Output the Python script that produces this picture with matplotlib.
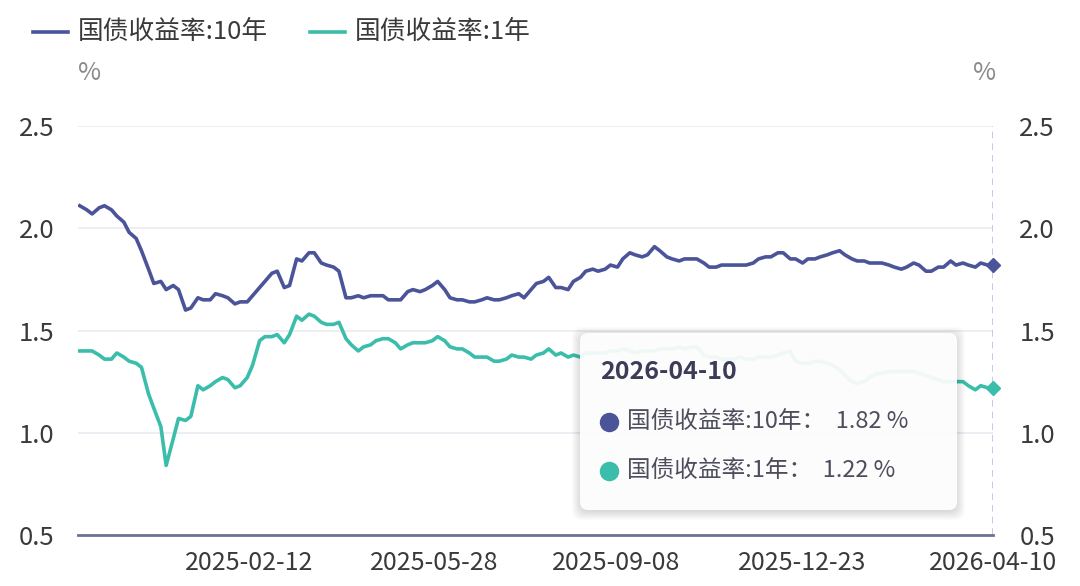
import pandas as pd
import matplotlib
import matplotlib.pyplot as plt
from matplotlib.lines import Line2D
from matplotlib.patches import FancyBboxPatch
from matplotlib.transforms import IdentityTransform

plt.rcParams['font.family'] = ['Noto Sans CJK SC', 'DejaVu Sans']

start_date = "2024-11-08"
end_date = "2026-04-10"

yield_10y = [
    2.11,
    2.09, 2.07, 2.10, 2.11, 2.09, 2.06, 2.03, 1.98, 1.95, 1.89,
    1.80, 1.73, 1.74, 1.70, 1.72, 1.70, 1.60, 1.61, 1.66, 1.65,
    1.65, 1.68, 1.67, 1.66, 1.63, 1.64, 1.64, 1.67, 1.71, 1.74,
    1.78, 1.79, 1.71, 1.72, 1.85, 1.84, 1.88, 1.88, 1.83, 1.82,
    1.81, 1.79, 1.66, 1.66, 1.67, 1.66, 1.67, 1.67, 1.67, 1.65,
    1.65, 1.65, 1.69, 1.70, 1.69, 1.70, 1.72, 1.74, 1.70, 1.66,
    1.65, 1.65, 1.64, 1.64, 1.65, 1.66, 1.65, 1.65, 1.66, 1.67,
    1.68, 1.66, 1.70, 1.73, 1.74, 1.76, 1.71, 1.71, 1.70, 1.74,
    1.76, 1.79, 1.80, 1.79, 1.80, 1.82, 1.81, 1.85, 1.88, 1.87,
    1.86, 1.87, 1.91, 1.89, 1.86, 1.85, 1.84, 1.85, 1.85, 1.85,
    1.83, 1.81, 1.81, 1.82, 1.82, 1.82, 1.82, 1.82, 1.83, 1.85,
    1.86, 1.86, 1.88, 1.88, 1.85, 1.85, 1.83, 1.85, 1.85, 1.86,
    1.87, 1.88, 1.89, 1.87, 1.85, 1.84, 1.84, 1.83, 1.83, 1.83,
    1.82, 1.81, 1.80, 1.81, 1.83, 1.82, 1.79, 1.79, 1.81, 1.81,
    1.84, 1.82, 1.83, 1.82, 1.81, 1.83, 1.82, 1.82,
]

yield_1y = [
    1.40,
    1.40, 1.40, 1.38, 1.36, 1.36, 1.39, 1.37, 1.35, 1.34, 1.32,
    1.19, 1.12, 1.03, 0.84, 0.97, 1.07, 1.06, 1.08, 1.23, 1.21,
    1.23, 1.25, 1.27, 1.26, 1.22, 1.23, 1.27, 1.33, 1.45, 1.47,
    1.47, 1.48, 1.44, 1.48, 1.57, 1.55, 1.58, 1.57, 1.54, 1.53,
    1.53, 1.54, 1.46, 1.43, 1.40, 1.42, 1.43, 1.45, 1.46, 1.46,
    1.44, 1.41, 1.43, 1.44, 1.44, 1.44, 1.45, 1.47, 1.45, 1.42,
    1.41, 1.41, 1.39, 1.37, 1.37, 1.37, 1.35, 1.35, 1.36, 1.38,
    1.37, 1.37, 1.36, 1.38, 1.39, 1.41, 1.38, 1.39, 1.37, 1.38,
    1.37, 1.39, 1.39, 1.39, 1.39, 1.40, 1.40, 1.41, 1.40, 1.39,
    1.40, 1.40, 1.40, 1.41, 1.41, 1.41, 1.42, 1.41, 1.42, 1.42,
    1.38, 1.37, 1.37, 1.36, 1.36, 1.36, 1.37, 1.36, 1.36, 1.37,
    1.37, 1.37, 1.38, 1.39, 1.40, 1.35, 1.34, 1.34, 1.35, 1.35,
    1.34, 1.33, 1.31, 1.28, 1.25, 1.24, 1.25, 1.27, 1.29, 1.29,
    1.30, 1.30, 1.30, 1.30, 1.30, 1.29, 1.28, 1.27, 1.26, 1.25,
    1.25, 1.25, 1.25, 1.23, 1.21, 1.23, 1.22, 1.22,
]

tick_dates = ["2025-02-12", "2025-05-28", "2025-09-08", "2025-12-23", "2026-04-10"]
series_names = ["国债收益率:10年", "国债收益率:1年"]
y_ticks = [0.5, 1.0, 1.5, 2.0, 2.5]

color_10y = "#4b5499"
color_1y = "#3bbdab"

fridays = pd.date_range(start_date, end_date, freq="W-FRI")
tuesdays = pd.date_range(start_date, end_date, freq="W-TUE")
dates = fridays.union(tuesdays)

fig = plt.figure(figsize=(10.8, 5.86), dpi=100)
ax = fig.add_axes([78 / 1080, 1 - 535 / 586, 915 / 1080, 409 / 586])

ax.plot(dates, yield_10y, color=color_10y, lw=2.6, solid_joinstyle="round")
ax.plot(dates, yield_1y, color=color_1y, lw=2.6, solid_joinstyle="round")
ax.plot(dates[-1], yield_10y[-1], marker="D", ms=7, color=color_10y, clip_on=False)
ax.plot(dates[-1], yield_1y[-1], marker="D", ms=7, color=color_1y, clip_on=False)
ax.axvline(dates[-1], color="#b9c1e6", lw=1.2, ls=(0, (4, 3)), zorder=1)

ax.set_ylim(0.5, 2.5)
ax.set_xlim(pd.Timestamp("2024-11-07"), pd.Timestamp(end_date))
ax.set_yticks(y_ticks)
ax.set_yticklabels([f"{v:.1f}" for v in y_ticks])
ax.set_xticks(pd.to_datetime(tick_dates))
ax.set_xticklabels(tick_dates)
ax.grid(axis="y", color="#e9ebf2", lw=1.2)
ax.set_axisbelow(True)
for side in ["top", "right", "left"]:
    ax.spines[side].set_visible(False)
ax.spines["bottom"].set_color("#6f7194")
ax.spines["bottom"].set_linewidth(2)
ax.tick_params(axis="y", length=0, labelsize=18.5, colors="#3a3a3a", pad=17)
ax.tick_params(axis="x", length=0, labelsize=18, colors="#3a3a3a", pad=11)

ax2 = ax.twinx()
ax2.set_ylim(0.5, 2.5)
ax2.set_yticks(y_ticks)
ax2.set_yticklabels([f"{v:.1f}" for v in y_ticks])
for side in ["top", "right", "left", "bottom"]:
    ax2.spines[side].set_visible(False)
ax2.tick_params(axis="y", length=0, labelsize=18.5, colors="#3a3a3a", pad=19)

# unit labels
fig.text(90 / 1080, 1 - 73 / 586, "%", fontsize=18, color="#8a8a8a", ha="center", va="center")
fig.text(985 / 1080, 1 - 73 / 586, "%", fontsize=18, color="#8a8a8a", ha="center", va="center")

# legend
legend_y = 1 - 32 / 586
for x0, name, c in [(33, series_names[0], color_10y), (310, series_names[1], color_1y)]:
    fig.add_artist(Line2D([x0 / 1080, (x0 + 35) / 1080], [legend_y, legend_y], color=c, lw=2.6))
    fig.text((x0 + 45) / 1080, legend_y, name, fontsize=18.5, color="#3a3a3a", va="center")

# tooltip box with soft shadow
bx, by, bw, bh = 580, 586 - 510, 377, 177
for k in range(9, 0, -1):
    fig.add_artist(FancyBboxPatch((bx - k + 1, by - k - 1), bw + 2 * k - 2, bh + 2 * k - 2,
                                  boxstyle="round,pad=0,rounding_size=10", transform=IdentityTransform(),
                                  facecolor="#000000", edgecolor="none", alpha=0.014, zorder=9))
fig.add_artist(FancyBboxPatch((bx, by), bw, bh, boxstyle="round,pad=0,rounding_size=8",
                              transform=IdentityTransform(), facecolor="white", edgecolor="none",
                              alpha=0.93, zorder=10))
fig.text(600 / 1080, 1 - 372 / 586, end_date, fontsize=18, fontweight="bold", color="#3c3c58",
         va="center", zorder=11)
for row_y, name, val, c in [(422, series_names[0], yield_10y[-1], color_10y),
                            (471, series_names[1], yield_1y[-1], color_1y)]:
    fig.add_artist(Line2D([609 / 1080], [1 - row_y / 586], marker="o", ms=13, color=c,
                          lw=0, zorder=11))
    fig.text(627 / 1080, 1 - row_y / 586, f"{name}：  {val:.2f} %", fontsize=17, color="#4d4d5e",
             va="center", zorder=11)

fig.savefig("out.png", dpi=100)
